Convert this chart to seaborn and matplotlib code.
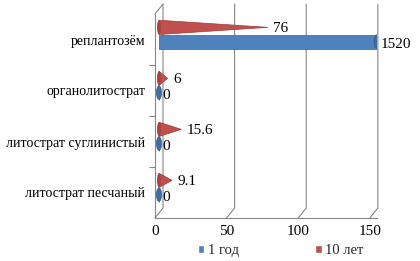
import matplotlib
matplotlib.use("Agg")
import matplotlib.pyplot as plt
import matplotlib.transforms as mtransforms
from matplotlib.patches import Polygon, Ellipse, Patch
import seaborn as sns
import pandas as pd

categories = ["реплантозём", "органолитострат", "литострат суглинистый", "литострат песчаный"]
series = ["1 год", "10 лет"]
year1 = [152, 0, 0, 0]
year10 = [76, 6, 15.6, 9.1]
labels1 = ["1520", "0", "0", "0"]
labels10 = ["76", "6", "15.6", "9.1"]
xticks = [0, 50, 100, 150]

BLUE = "#4F81BD"
RED = "#C0504D"
GRID = "#868686"
FONT = "Liberation Serif"

df = pd.DataFrame({
    "category": categories * 2,
    "series": [series[1]] * 4 + [series[0]] * 4,
    "value": year10 + year1,
})

sns.set_theme(style="white")
plt.rcParams["font.family"] = "serif"
plt.rcParams["font.serif"] = [FONT, "DejaVu Serif"]

fig = plt.figure(figsize=(4.2, 2.61), dpi=100)
ax = fig.add_axes([155 / 420, 1 - 218 / 261, (377 - 155) / 420, (218 - 14) / 261])

sns.barplot(data=df, y="category", x="value", hue="series",
            hue_order=[series[1], series[0]], palette=[RED, BLUE],
            order=categories, width=0.56, orient="h", ax=ax, legend=False,
            saturation=1)

ax.set_xlim(0, 155)
ax.set_ylim(3.5, -0.5)
ax.set_xlabel("")
ax.set_ylabel("")
ax.set_xticks(xticks)
ax.tick_params(axis="x", length=0, pad=5, labelsize=11, colors="black")
ax.tick_params(axis="y", which="major", length=0, pad=7, labelsize=10, colors="black")
for lbl in ax.get_yticklabels() + ax.get_xticklabels():
    lbl.set_fontfamily(FONT)
ax.set_yticks([0.5, 1.5, 2.5], minor=True)
ax.tick_params(axis="y", which="minor", length=4, width=0.8, color=GRID, left=True)
ax.grid(False)
for s in ["top", "right"]:
    ax.spines[s].set_visible(False)
for s in ["left", "bottom"]:
    ax.spines[s].set_color(GRID)
    ax.spines[s].set_linewidth(0.8)

# 3D-like back wall gridlines
off = mtransforms.ScaledTranslation(8 / 100, 10 / 100, fig.dpi_scale_trans)
tr_front = ax.get_xaxis_transform()
tr_back = tr_front + off
for t in xticks:
    x0, y0 = tr_front.transform((t, 0))
    x1, y1 = tr_back.transform((t, 0))
    x2, y2 = tr_back.transform((t, 1.0))
    ax.plot([x0, x1, x2], [y0, y1, y2], transform=None,
            color=GRID, lw=0.8, zorder=0.5, clip_on=False)
xa, ya = tr_front.transform((0, 1.0))
ax.plot([xa, xa + 8], [ya, ya + 10], transform=None, color=GRID, lw=0.8, clip_on=False)

# depth offset of the 3D bars (pixels -> data units)
px_x = ax.transData.transform((1, 0))[0] - ax.transData.transform((0, 0))[0]
px_y = abs(ax.transData.transform((0, 1))[1] - ax.transData.transform((0, 0))[1])
dx = 4 / px_x
dy = 5 / px_y

red_c, blue_c = ax.containers[0], ax.containers[1]

for p, lab in zip(red_c.patches, labels10):
    x, y, w, h = p.get_x() + dx, p.get_y() - dy, p.get_width(), p.get_height()
    p.set_visible(False)
    tri = Polygon([(x, y), (x, y + h), (x + w, y + h / 2)], closed=True,
                  facecolor=RED, edgecolor="#9C3A38", lw=0.5, zorder=3)
    ax.add_patch(tri)
    ax.add_patch(Ellipse((x, y + h / 2), 4 / px_x, h, facecolor="#A94442",
                         edgecolor="none", zorder=3.1))
    ax.annotate(lab, (x + w, y + h / 2), xytext=(4, -1), textcoords="offset points",
                ha="left", va="center", fontsize=11, color="black", family=FONT)

for p, lab in zip(blue_c.patches, labels1):
    p.set_x(p.get_x() + dx)
    p.set_y(p.get_y() - dy)
    x, y, w, h = p.get_x(), p.get_y(), p.get_width(), p.get_height()
    p.set_edgecolor("#3A6593")
    p.set_linewidth(0.5)
    ax.add_patch(Ellipse((x + w, y + h / 2), 5 / px_x, h * 0.95, facecolor="#3E6EA6",
                         edgecolor="#2F5783", lw=0.5, zorder=4))
    ax.annotate(lab, (x + w, y + h / 2), xytext=(2.5, -2), textcoords="offset points",
                ha="left", va="center", fontsize=11, color="black", family=FONT)

handles = [Patch(facecolor=BLUE), Patch(facecolor=RED)]
fig.legend(handles, series, loc="lower left", bbox_to_anchor=(0.44, -0.035), ncol=2,
           frameon=False, handlelength=0.45, handleheight=0.45,
           columnspacing=5.2, handletextpad=0.25,
           prop={"family": FONT, "size": 10.5})

fig.savefig("out.png", dpi=100)
